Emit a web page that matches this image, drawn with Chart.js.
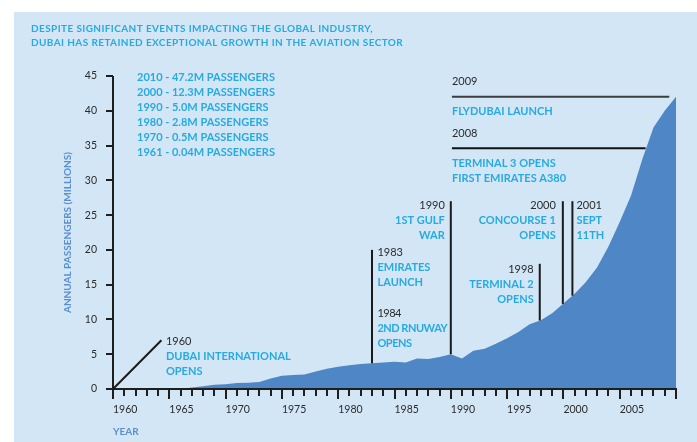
<!DOCTYPE html>
<html>
<head>
<meta charset="utf-8">
<title>Dubai airport passenger growth</title>
<script src="https://cdn.jsdelivr.net/npm/chart.js@4.4.1/dist/chart.umd.min.js"></script>
<style>
    html, body { margin: 0; padding: 0; background: #ffffff; }
    #wrap { position: relative; width: 697px; height: 442px; }
</style>
</head>
<body>
<div id="wrap"><canvas id="paxChart" width="697" height="442"></canvas></div>
<script>
/* ---------- data ---------- */
const years = [
    1960, 1961, 1962, 1963, 1964, 1965, 1966, 1967, 1968, 1969,
    1970, 1971, 1972, 1973, 1974, 1975, 1976, 1977, 1978, 1979,
    1980, 1981, 1982, 1983, 1984, 1985, 1986, 1987, 1988, 1989,
    1990, 1991, 1992, 1993, 1994, 1995, 1996, 1997, 1998, 1999,
    2000, 2001, 2002, 2003, 2004, 2005, 2006, 2007, 2008, 2009, 2010
];
// annual passengers, millions
const passengers = [
    0, 0, 0, 0, 0, 0, 0, 0.2, 0.4, 0.6,
    0.7, 0.85, 0.9, 1.0, 1.5, 1.9, 2.0, 2.1, 2.5, 2.9,
    3.2, 3.4, 3.6, 3.7, 3.8, 3.9, 3.8, 4.4, 4.3, 4.6,
    5.0, 4.4, 5.5, 5.8, 6.5, 7.3, 8.2, 9.3, 9.9, 10.9,
    12.3, 13.7, 15.4, 17.5, 20.5, 24.0, 27.8, 33.0, 37.6, 40.0, 42.0
];
const yTicks = [0, 5, 10, 15, 20, 25, 30, 35, 40, 45];
const xLabelYears = [1960, 1965, 1970, 1975, 1980, 1985, 1990, 1995, 2000, 2005];

const headline = [
    "DESPITE SIGNIFICANT EVENTS IMPACTING THE GLOBAL INDUSTRY,",
    "DUBAI HAS RETAINED EXCEPTIONAL GROWTH IN THE AVIATION SECTOR"
];
const milestones = [
    "2010 - 47.2M PASSENGERS",
    "2000 - 12.3M PASSENGERS",
    "1990 - 5.0M PASSENGERS",
    "1980 - 2.8M PASSENGERS",
    "1970 - 0.5M PASSENGERS",
    "1961 - 0.04M PASSENGERS"
];
const eventYears = ["1960", "1983", "1984", "1990", "1998", "2000", "2001", "2008", "2009"];
const eventTexts = [
    ["DUBAI INTERNATIONAL", "OPENS"],
    ["EMIRATES", "LAUNCH"],
    ["2ND RNUWAY", "OPENS"],
    ["1ST GULF", "WAR"],
    ["TERMINAL 2", "OPENS"],
    ["CONCOURSE 1", "OPENS"],
    ["SEPT", "11TH"],
    ["TERMINAL 3 OPENS", "FIRST EMIRATES A380"],
    ["FLYDUBAI LAUNCH"]
];

/* ---------- styling ---------- */
const PANEL_BG = "#d3e6f6";
const AREA_BLUE = "#4f86c5";
const CYAN = "#27aae1";
const DARK = "#2b2b2b";
const MUTED_BLUE = "#5b8fcf";
const FONT = "Lato";

Chart.defaults.font.family = FONT;

// how far the area reaches at a given (possibly fractional) year
function areaValueAt(yr) {
    for (let i = 0; i < years.length - 1; i++) {
        if (yr >= years[i] && yr <= years[i + 1]) {
            const t = (yr - years[i]) / (years[i + 1] - years[i]);
            return passengers[i] + t * (passengers[i + 1] - passengers[i]);
        }
    }
    return passengers[passengers.length - 1];
}

function textBlock(ctx, lines, x, y, align, gap) {
    ctx.textAlign = align;
    lines.forEach((ln, i) => {
        ctx.font = ln.bold ? `bold 11px ${FONT}` : `11px ${FONT}`;
        ctx.fillStyle = ln.color;
        ctx.fillText(ln.text, x, y + i * gap);
    });
}

function eventLines(idx) {
    const out = [{ text: eventYears[idx], color: DARK, bold: false }];
    eventTexts[idx].forEach(t => out.push({ text: t, color: CYAN, bold: true }));
    return out;
}

/* ---------- plugins ---------- */
const panelPlugin = {
    id: "panel",
    beforeDraw(chart) {
        const { ctx, width, height } = chart;
        ctx.save();
        ctx.fillStyle = "#ffffff";
        ctx.fillRect(0, 0, width, height);
        ctx.fillStyle = PANEL_BG;
        ctx.fillRect(14, 12, width - 14, height - 12);
        ctx.restore();
    }
};

const axesPlugin = {
    id: "handAxes",
    afterDatasetsDraw(chart) {
        const { ctx, scales: { x, y } } = chart;
        const x0 = x.getPixelForValue(years[0]);
        const x1 = x.getPixelForValue(years[years.length - 1]);
        const y0 = y.getPixelForValue(0);
        const yTop = y.getPixelForValue(yTicks[yTicks.length - 1]);

        ctx.save();
        ctx.strokeStyle = "#1e1e1e";
        ctx.lineWidth = 2;
        ctx.beginPath();
        ctx.moveTo(x0 - 1, y0);
        ctx.lineTo(x1 + 1, y0);
        ctx.moveTo(x0, y0);
        ctx.lineTo(x0, yTop);

        // one tick per year, longer every five
        years.forEach(yr => {
            const px = Math.round(x.getPixelForValue(yr));
            const len = yr % 5 === 0 ? 10 : 7;
            ctx.moveTo(px, y0);
            ctx.lineTo(px, y0 + len);
        });
        yTicks.forEach(v => {
            const py = Math.round(y.getPixelForValue(v));
            ctx.moveTo(x0 - 7, py);
            ctx.lineTo(x0, py);
        });
        ctx.stroke();
        ctx.restore();
    }
};

const notesPlugin = {
    id: "notes",
    afterDraw(chart) {
        const { ctx, scales: { x, y } } = chart;
        ctx.save();
        ctx.textBaseline = "middle";

        // headline, set a little wide
        ctx.font = `bold 10px ${FONT}`;
        ctx.fillStyle = CYAN;
        ctx.textAlign = "left";
        ctx.letterSpacing = "0.4px";
        headline.forEach((t, i) => ctx.fillText(t, 31, 29 + i * 13.5));
        ctx.letterSpacing = "0px";

        // passenger milestones
        ctx.font = `bold 11px ${FONT}`;
        milestones.forEach((t, i) => ctx.fillText(t, 137, 77.5 + i * 15));

        const vline = (yr, top) => {
            const px = x.getPixelForValue(yr);
            ctx.beginPath();
            ctx.moveTo(px, y.getPixelForValue(top));
            ctx.lineTo(px, y.getPixelForValue(areaValueAt(yr)));
            ctx.stroke();
            return { px, py: y.getPixelForValue(top) };
        };
        const hline = (fromYr, toYr, v) => {
            const py = y.getPixelForValue(v);
            ctx.beginPath();
            ctx.moveTo(x.getPixelForValue(fromYr), py);
            ctx.lineTo(x.getPixelForValue(toYr), py);
            ctx.stroke();
            return { px: x.getPixelForValue(fromYr), py };
        };

        ctx.strokeStyle = "#1a1a1a";
        ctx.lineWidth = 2;

        // 1960 - diagonal pointer from the origin
        ctx.beginPath();
        ctx.moveTo(x.getPixelForValue(1960), y.getPixelForValue(0));
        ctx.lineTo(x.getPixelForValue(1964.3), y.getPixelForValue(7));
        ctx.stroke();
        textBlock(ctx, eventLines(0), x.getPixelForValue(1964.7), y.getPixelForValue(6.8), "left", 15);

        // 1983 / 1984 share one marker
        let a = vline(1983, 20);
        textBlock(ctx, eventLines(1), a.px + 5.5, a.py + 2.5, "left", 15);
        ctx.letterSpacing = "-0.5px";
        textBlock(ctx, eventLines(2), a.px + 5.5, a.py + 63.5, "left", 15);
        ctx.letterSpacing = "0px";

        // 1990
        a = vline(1990, 27);
        textBlock(ctx, eventLines(3), a.px - 6, a.py + 4.5, "right", 15);

        // 1998
        a = vline(1997.9, 18);
        textBlock(ctx, eventLines(4), a.px - 6, a.py + 6, "right", 15);

        // 2000 and 2001
        a = vline(1999.95, 27);
        textBlock(ctx, eventLines(5), a.px - 7, a.py + 4.5, "right", 15);
        a = vline(2000.8, 27);
        textBlock(ctx, eventLines(6), a.px + 4, a.py + 4.5, "left", 15);

        // 2008 and 2009 run across to the curve
        ctx.strokeStyle = "#111111";
        a = hline(1990.1, 2007.3, 34.6);
        textBlock(ctx, [{ text: eventYears[7], color: DARK }], a.px, a.py - 15, "left", 15);
        textBlock(ctx, eventTexts[7].map(t => ({ text: t, color: CYAN, bold: true })), a.px, a.py + 15.5, "left", 15);

        ctx.strokeStyle = "#3c3c3c";
        a = hline(1990.1, 2009.4, 42.0);
        textBlock(ctx, [{ text: eventYears[8], color: DARK }], a.px, a.py - 15, "left", 15);
        textBlock(ctx, eventTexts[8].map(t => ({ text: t, color: CYAN, bold: true })), a.px, a.py + 14.5, "left", 15);

        ctx.restore();
    }
};

/* ---------- chart ---------- */
const ctx = document.getElementById("paxChart");

new Chart(ctx, {
    type: "line",
    data: {
        datasets: [{
            label: "Annual passengers",
            data: years.map((yr, i) => ({ x: yr, y: passengers[i] })),
            fill: "origin",
            backgroundColor: AREA_BLUE,
            borderWidth: 0,
            pointRadius: 0,
            tension: 0
        }]
    },
    options: {
        responsive: false,
        devicePixelRatio: 1,
        animation: false,
        layout: { padding: { top: 76, right: 21, left: 0, bottom: 0 } },
        plugins: {
            legend: { display: false },
            tooltip: { enabled: false }
        },
        scales: {
            x: {
                type: "linear",
                min: years[0],
                max: years[years.length - 1],
                afterFit: s => { s.height = 53; },
                afterBuildTicks: s => { s.ticks = xLabelYears.map(v => ({ value: v })); },
                grid: { display: false, drawTicks: false },
                border: { display: false },
                ticks: {
                    align: "start",
                    maxRotation: 0,
                    autoSkip: false,
                    padding: 14,
                    color: DARK,
                    font: { size: 10.5 },
                    callback: v => String(v)
                },
                title: {
                    display: true,
                    text: "YEAR",
                    align: "start",
                    color: MUTED_BLUE,
                    font: { size: 10, weight: "bold" },
                    padding: { top: 0, bottom: 4 }
                }
            },
            y: {
                min: 0,
                max: yTicks[yTicks.length - 1],
                afterFit: s => { s.width = 113; },
                afterBuildTicks: s => { s.ticks = yTicks.map(v => ({ value: v })); },
                grid: { display: false, drawTicks: false },
                border: { display: false },
                ticks: {
                    padding: 16,
                    color: DARK,
                    font: { size: 10.5 }
                },
                title: {
                    display: true,
                    text: "ANNUAL PASSENGERS (MILLIONS)",
                    color: MUTED_BLUE,
                    font: { size: 10, weight: "bold" },
                    padding: { top: 62, bottom: 0 }
                }
            }
        }
    },
    plugins: [panelPlugin, axesPlugin, notesPlugin]
});
</script>
</body>
</html>
